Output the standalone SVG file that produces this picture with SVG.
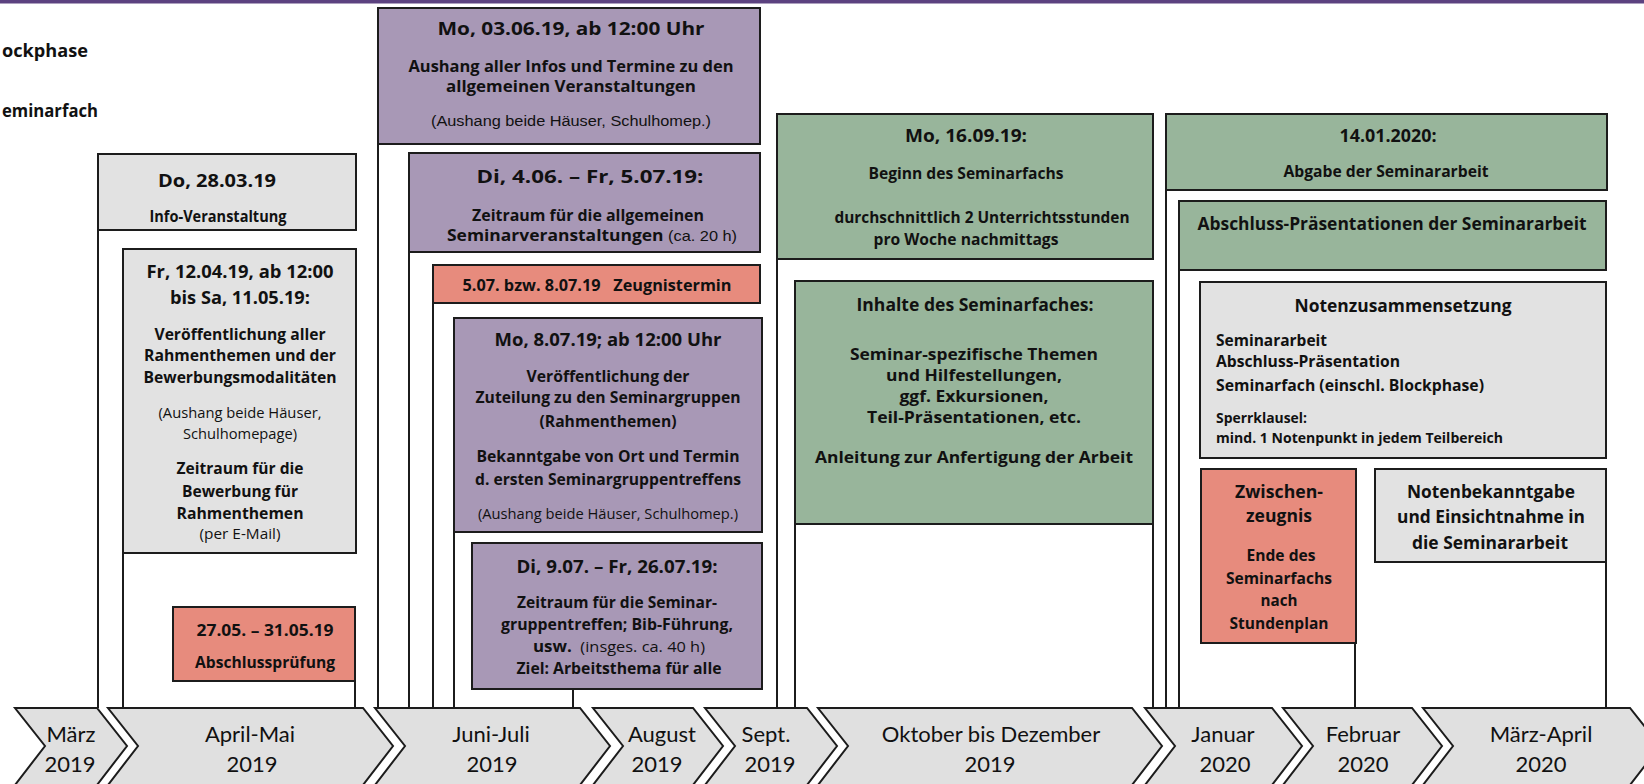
<svg xmlns="http://www.w3.org/2000/svg" width="1644" height="784" viewBox="0 0 1644 784">
<style>
text{font-family:"Open Sans","Noto Sans",Lato,sans-serif;fill:#111;text-anchor:middle;font-weight:bold;font-size:15.5px}
.h{font-size:17px}
.b{font-size:17.5px}
.m{font-size:16px}
.s{font-size:14px}
.r{font-weight:normal;font-size:14px}
.a{font-family:"Liberation Sans",Arial,sans-serif;font-weight:normal;font-size:15.5px}
.l{text-anchor:start}
.tl{font-family:Lato,"Open Sans",sans-serif;font-weight:normal;font-size:22px}
.pre{white-space:pre}
.box{stroke:#1c1c1c;stroke-width:2}
.g{fill:#e2e2e2}.p{fill:#a898b6}.gr{fill:#98b59b}.sa{fill:#e78b7d}
.chev{fill:#e0e0e0;stroke:#1c1c1c;stroke-width:2}
.stem{stroke:#1c1c1c;stroke-width:2;fill:none}
</style>
<rect x="0" y="0" width="1644" height="3.5" fill="#5c4280"/>
<g id="legend">
<text class="l" x="2" y="57" style="font-size:18px" textLength="86" lengthAdjust="spacingAndGlyphs">ockphase</text>
<text class="l" x="2" y="117" style="font-size:18px" textLength="96" lengthAdjust="spacingAndGlyphs">eminarfach</text>
</g>
<g id="connectors">
<line class="stem" x1="98" y1="230" x2="98" y2="708"/>
<line class="stem" x1="123" y1="553" x2="123" y2="708"/>
<line class="stem" x1="355" y1="681" x2="355" y2="708"/>
<line class="stem" x1="378" y1="144" x2="378" y2="708"/>
<line class="stem" x1="409" y1="252" x2="409" y2="708"/>
<line class="stem" x1="433" y1="303" x2="433" y2="708"/>
<line class="stem" x1="454" y1="532" x2="454" y2="708"/>
<line class="stem" x1="573" y1="689" x2="573" y2="708"/>
<line class="stem" x1="777" y1="259" x2="777" y2="708"/>
<line class="stem" x1="795" y1="524" x2="795" y2="708"/>
<line class="stem" x1="1153" y1="524" x2="1153" y2="708"/>
<line class="stem" x1="1166" y1="190" x2="1166" y2="708"/>
<line class="stem" x1="1179" y1="270" x2="1179" y2="708"/>
<line class="stem" x1="1355" y1="643" x2="1355" y2="708"/>
<line class="stem" x1="1606" y1="562" x2="1606" y2="708"/>
</g>
<g id="n-info">
<rect class="box g" x="98" y="154" width="258" height="76"/>
<text class="h" x="217" y="187" textLength="118" lengthAdjust="spacingAndGlyphs">Do, 28.03.19</text>
<text x="218" y="222" textLength="137" lengthAdjust="spacingAndGlyphs">Info-Veranstaltung</text>
</g>
<g id="n-rahmen">
<rect class="box g" x="123" y="249" width="233" height="304"/>
<text class="h" x="240" y="278" textLength="187" lengthAdjust="spacingAndGlyphs">Fr, 12.04.19, ab 12:00</text>
<text class="h" x="240" y="304" textLength="140" lengthAdjust="spacingAndGlyphs">bis Sa, 11.05.19:</text>
<text x="240" y="340" textLength="171" lengthAdjust="spacingAndGlyphs">Veröffentlichung aller</text>
<text x="240" y="361" textLength="192" lengthAdjust="spacingAndGlyphs">Rahmenthemen und der</text>
<text x="240" y="383" textLength="193" lengthAdjust="spacingAndGlyphs">Bewerbungsmodalitäten</text>
<text class="r" x="240" y="418" textLength="163" lengthAdjust="spacingAndGlyphs">(Aushang beide Häuser,</text>
<text class="r" x="240" y="439" textLength="114" lengthAdjust="spacingAndGlyphs">Schulhomepage)</text>
<text x="240" y="474" textLength="127" lengthAdjust="spacingAndGlyphs">Zeitraum für die</text>
<text x="240" y="497" textLength="116" lengthAdjust="spacingAndGlyphs">Bewerbung für</text>
<text x="240" y="519" textLength="127" lengthAdjust="spacingAndGlyphs">Rahmenthemen</text>
<text class="r" x="240" y="539" textLength="81" lengthAdjust="spacingAndGlyphs">(per E-Mail)</text>
</g>
<g id="n-pruefung">
<rect class="box sa" x="173" y="607" width="182" height="74"/>
<text x="265" y="636" textLength="137" lengthAdjust="spacingAndGlyphs">27.05. – 31.05.19</text>
<text x="265" y="668" textLength="140" lengthAdjust="spacingAndGlyphs">Abschlussprüfung</text>
</g>
<g id="n-aushang">
<rect class="box p" x="378" y="8" width="382" height="136"/>
<text class="h" x="571" y="35" textLength="267" lengthAdjust="spacingAndGlyphs">Mo, 03.06.19, ab 12:00 Uhr</text>
<text x="571" y="72" style="font-size:15.5px" textLength="325" lengthAdjust="spacingAndGlyphs">Aushang aller Infos und Termine zu den</text>
<text x="571" y="92" style="font-size:15.5px" textLength="250" lengthAdjust="spacingAndGlyphs">allgemeinen Veranstaltungen</text>
<text class="a" x="571" y="126" textLength="280" lengthAdjust="spacingAndGlyphs">(Aushang beide Häuser, Schulhomep.)</text>
</g>
<g id="n-allgemein">
<rect class="box p" x="409" y="153" width="351" height="99"/>
<text class="h" x="590" y="183" textLength="227" lengthAdjust="spacingAndGlyphs">Di, 4.06. – Fr, 5.07.19:</text>
<text x="588" y="221" textLength="232" lengthAdjust="spacingAndGlyphs">Zeitraum für die allgemeinen</text>
<text x="592" y="241" textLength="290" lengthAdjust="spacingAndGlyphs">Seminarveranstaltungen<tspan class="a" style="font-size:14.5px"> (ca. 20 h)</tspan></text>
</g>
<g id="n-zeugnis">
<rect class="box sa" x="433" y="265" width="327" height="38"/>
<text class="pre" x="597" y="291" textLength="269" lengthAdjust="spacingAndGlyphs">5.07. bzw. 8.07.19   Zeugnistermin</text>
</g>
<g id="n-zuteilung">
<rect class="box p" x="454" y="318" width="308" height="214"/>
<text class="h" x="608" y="346" textLength="227" lengthAdjust="spacingAndGlyphs">Mo, 8.07.19; ab 12:00 Uhr</text>
<text x="608" y="382" textLength="163" lengthAdjust="spacingAndGlyphs">Veröffentlichung der</text>
<text x="608" y="403" textLength="265" lengthAdjust="spacingAndGlyphs">Zuteilung zu den Seminargruppen</text>
<text x="608" y="427" textLength="137" lengthAdjust="spacingAndGlyphs">(Rahmenthemen)</text>
<text x="608" y="462" textLength="263" lengthAdjust="spacingAndGlyphs">Bekanntgabe von Ort und Termin</text>
<text x="608" y="485" textLength="266" lengthAdjust="spacingAndGlyphs">d. ersten Seminargruppentreffens</text>
<text class="r" x="608" y="519" textLength="260" lengthAdjust="spacingAndGlyphs">(Aushang beide Häuser, Schulhomep.)</text>
</g>
<g id="n-gruppentreffen">
<rect class="box p" x="472" y="543" width="290" height="146"/>
<text class="h" x="617" y="573" textLength="201" lengthAdjust="spacingAndGlyphs">Di, 9.07. – Fr, 26.07.19:</text>
<text x="617" y="608" textLength="200" lengthAdjust="spacingAndGlyphs">Zeitraum für die Seminar-</text>
<text x="617" y="630" textLength="232" lengthAdjust="spacingAndGlyphs">gruppentreffen; Bib-Führung,</text>
<text class="pre" x="619" y="652" textLength="172" lengthAdjust="spacingAndGlyphs">usw.<tspan class="r" style="font-size:15px">  (insges. ca. 40 h)</tspan></text>
<text x="619" y="674" textLength="205" lengthAdjust="spacingAndGlyphs">Ziel: Arbeitsthema für alle</text>
</g>
<g id="n-beginn">
<rect class="box gr" x="777" y="114" width="376" height="145"/>
<text class="h" x="966" y="142" textLength="122" lengthAdjust="spacingAndGlyphs">Mo, 16.09.19:</text>
<text x="966" y="179" textLength="195" lengthAdjust="spacingAndGlyphs">Beginn des Seminarfachs</text>
<text x="982" y="223" textLength="295" lengthAdjust="spacingAndGlyphs">durchschnittlich 2 Unterrichtsstunden</text>
<text x="966" y="245" textLength="185" lengthAdjust="spacingAndGlyphs">pro Woche nachmittags</text>
</g>
<g id="n-inhalte">
<rect class="box gr" x="795" y="281" width="358" height="243"/>
<text class="h" x="975" y="311" textLength="237" lengthAdjust="spacingAndGlyphs">Inhalte des Seminarfaches:</text>
<text class="m" x="974" y="360" textLength="248" lengthAdjust="spacingAndGlyphs">Seminar-spezifische Themen</text>
<text class="m" x="974" y="381" textLength="176" lengthAdjust="spacingAndGlyphs">und Hilfestellungen,</text>
<text class="m" x="974" y="402" textLength="149" lengthAdjust="spacingAndGlyphs">ggf. Exkursionen,</text>
<text class="m" x="974" y="423" textLength="214" lengthAdjust="spacingAndGlyphs">Teil-Präsentationen, etc.</text>
<text class="m" x="974" y="463" textLength="318" lengthAdjust="spacingAndGlyphs">Anleitung zur Anfertigung der Arbeit</text>
</g>
<g id="n-abgabe">
<rect class="box gr" x="1166" y="114" width="441" height="76"/>
<text class="h" x="1388" y="142" textLength="97" lengthAdjust="spacingAndGlyphs">14.01.2020:</text>
<text x="1386" y="177" textLength="205" lengthAdjust="spacingAndGlyphs">Abgabe der Seminararbeit</text>
</g>
<g id="n-praesentation">
<rect class="box gr" x="1179" y="201" width="427" height="69"/>
<text class="b" x="1392" y="230" textLength="389" lengthAdjust="spacingAndGlyphs">Abschluss-Präsentationen der Seminararbeit</text>
</g>
<g id="n-noten">
<rect class="box g" x="1200" y="282" width="406" height="176"/>
<text class="b" x="1403" y="312" textLength="217" lengthAdjust="spacingAndGlyphs">Notenzusammensetzung</text>
<text class="l m" x="1216" y="346" textLength="111" lengthAdjust="spacingAndGlyphs">Seminararbeit</text>
<text class="l m" x="1216" y="367" textLength="184" lengthAdjust="spacingAndGlyphs">Abschluss-Präsentation</text>
<text class="l m" x="1216" y="391" textLength="268" lengthAdjust="spacingAndGlyphs">Seminarfach (einschl. Blockphase)</text>
<text class="l s" x="1216" y="423" textLength="91" lengthAdjust="spacingAndGlyphs">Sperrklausel:</text>
<text class="l s" x="1216" y="443" textLength="287" lengthAdjust="spacingAndGlyphs">mind. 1 Notenpunkt in jedem Teilbereich</text>
</g>
<g id="n-zwischenzeugnis">
<rect class="box sa" x="1201" y="469" width="155" height="174"/>
<text class="b" x="1279" y="498" textLength="88" lengthAdjust="spacingAndGlyphs">Zwischen-</text>
<text class="b" x="1279" y="522" textLength="66" lengthAdjust="spacingAndGlyphs">zeugnis</text>
<text x="1281" y="561" textLength="69" lengthAdjust="spacingAndGlyphs">Ende des</text>
<text x="1279" y="584" textLength="106" lengthAdjust="spacingAndGlyphs">Seminarfachs</text>
<text x="1279" y="606" textLength="37" lengthAdjust="spacingAndGlyphs">nach</text>
<text x="1279" y="629" textLength="99" lengthAdjust="spacingAndGlyphs">Stundenplan</text>
</g>
<g id="n-notenbekanntgabe">
<rect class="box g" x="1375" y="469" width="231" height="93"/>
<text class="b" x="1491" y="498" textLength="168" lengthAdjust="spacingAndGlyphs">Notenbekanntgabe</text>
<text class="b" x="1491" y="523" textLength="188" lengthAdjust="spacingAndGlyphs">und Einsichtnahme in</text>
<text class="b" x="1490" y="549" textLength="156" lengthAdjust="spacingAndGlyphs">die Seminararbeit</text>
</g>
<g id="timeline">
<polygon class="chev" points="15,708 97,708 127,746 97,785 15,785 45,746"/>
<polygon class="chev" points="108,708 363,708 393,746 363,785 108,785 138,746"/>
<polygon class="chev" points="375,708 580,708 610,746 580,785 375,785 405,746"/>
<polygon class="chev" points="593,708 693,708 723,746 693,785 593,785 623,746"/>
<polygon class="chev" points="705,708 807,708 837,746 807,785 705,785 735,746"/>
<polygon class="chev" points="818,708 1132,708 1162,746 1132,785 818,785 848,746"/>
<polygon class="chev" points="1145,708 1272,708 1302,746 1272,785 1145,785 1175,746"/>
<polygon class="chev" points="1283,708 1412,708 1442,746 1412,785 1283,785 1313,746"/>
<polygon class="chev" points="1423,708 1630,708 1660,746 1630,785 1423,785 1453,746"/>
<text class="tl" x="71" y="742">März</text><text class="tl" x="70" y="772">2019</text>
<text class="tl" x="250" y="742">April-Mai</text><text class="tl" x="252" y="772">2019</text>
<text class="tl" x="491" y="742">Juni-Juli</text><text class="tl" x="492" y="772">2019</text>
<text class="tl" x="662" y="742">August</text><text class="tl" x="657" y="772">2019</text>
<text class="tl" x="766" y="742">Sept.</text><text class="tl" x="770" y="772">2019</text>
<text class="tl" x="991" y="742">Oktober bis Dezember</text><text class="tl" x="990" y="772">2019</text>
<text class="tl" x="1223" y="742">Januar</text><text class="tl" x="1225" y="772">2020</text>
<text class="tl" x="1363" y="742">Februar</text><text class="tl" x="1363" y="772">2020</text>
<text class="tl" x="1541" y="742">März-April</text><text class="tl" x="1541" y="772">2020</text>
</g>
</svg>
